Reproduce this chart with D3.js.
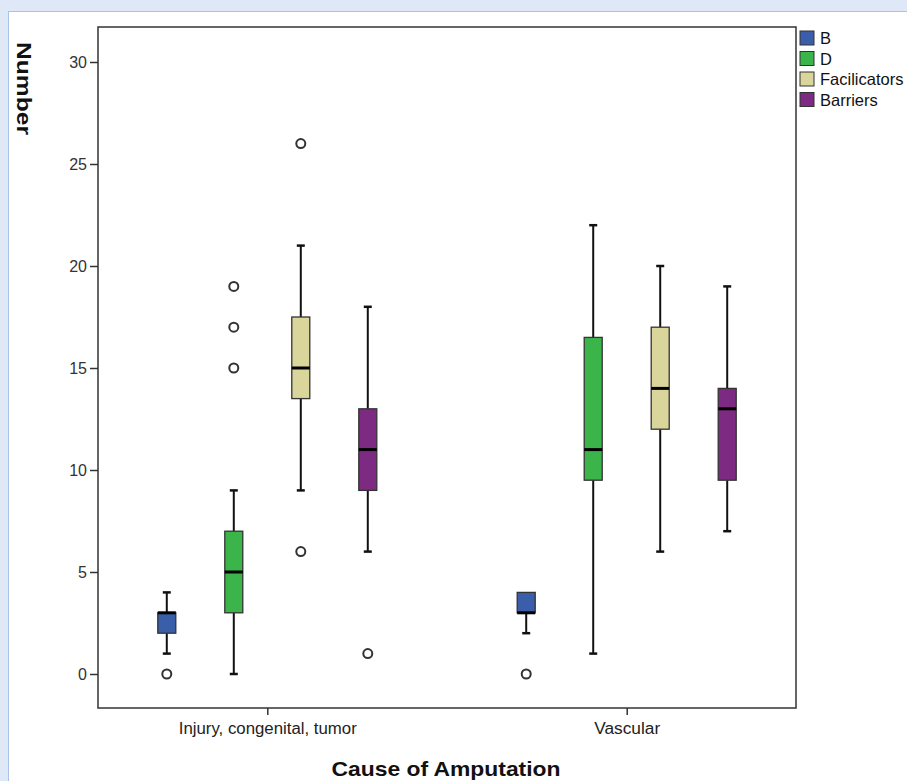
<!DOCTYPE html>
<html>
<head>
<meta charset="utf-8">
<script src="https://cdn.jsdelivr.net/npm/d3@7"></script>
<style>
  html, body { margin: 0; padding: 0; background: #dfe8f6; }
  svg { display: block; font-family: "Liberation Sans", Arial, sans-serif; }
</style>
</head>
<body>
<svg id="chart" width="907" height="781"></svg>
<script>
// categories and series
const causes = ['Injury, congenital, tumor', 'Vascular'];
const groups = ['B', 'D', 'Facilicators', 'Barriers'];
const colors = ['#3a5ea9', '#3bb54a', '#d9d59b', '#7d2a82'];
const yTicks = [0, 5, 10, 15, 20, 25, 30];

// box stats per cause, in group order: [min whisker, q1, median, q3, max whisker]
const injuryStats = [
  [1, 2, 3, 3, 4],
  [0, 3, 5, 7, 9],
  [9, 13.5, 15, 17.5, 21],
  [6, 9, 11, 13, 18]
];
const vascularStats = [
  [2, 3, 3, 4, 4],
  [1, 9.5, 11, 16.5, 22],
  [6, 12, 14, 17, 20],
  [7, 9.5, 13, 14, 19]
];
const injuryOutliers = [[0], [15, 17, 19], [26, 6], [1]];
const vascularOutliers = [[0], [], [], []];

const stats = [injuryStats, vascularStats];
const outliers = [injuryOutliers, vascularOutliers];

const svg = d3.select('#chart');

// white panel
svg.append('rect')
  .attr('x', 8.5).attr('y', 11.5)
  .attr('width', 910).attr('height', 780)
  .attr('fill', '#fff')
  .attr('stroke', '#a8c3e6');

const pLeft = 98, pRight = 796, pTop = 27, pBottom = 708;

const x = d3.scalePoint().domain(causes).range([pLeft, pRight]).padding(0.471);
const inner = d3.scaleBand().domain(groups).range([-134, 134]);
const y = d3.scaleLinear().domain([0, 30]).range([674, 62]);

// frame
svg.append('rect')
  .attr('x', pLeft).attr('y', pTop)
  .attr('width', pRight - pLeft).attr('height', pBottom - pTop)
  .attr('fill', 'none').attr('stroke', '#333').attr('stroke-width', 1.5);

// y axis
const yAxis = svg.append('g')
  .attr('transform', `translate(${pLeft},0)`)
  .call(d3.axisLeft(y).tickValues(yTicks).tickSize(8).tickPadding(3));
yAxis.select('.domain').remove();
yAxis.selectAll('line').attr('stroke', '#333').attr('stroke-width', 1.5);
yAxis.selectAll('text').attr('font-size', 16).attr('fill', '#333')
  .attr('font-family', '"Liberation Sans", Arial, sans-serif');

// x axis
const xAxis = svg.append('g')
  .attr('transform', `translate(0,${pBottom})`)
  .call(d3.axisBottom(x).tickSize(7).tickPadding(8));
xAxis.select('.domain').remove();
xAxis.selectAll('line').attr('stroke', '#333').attr('stroke-width', 1.5);
xAxis.selectAll('text').attr('font-size', 16).attr('fill', '#222')
  .attr('font-family', '"Liberation Sans", Arial, sans-serif')
  .attr('textLength', (d, i) => i === 0 ? 178 : 66)
  .attr('lengthAdjust', 'spacingAndGlyphs');

// axis titles
svg.append('text')
  .attr('x', (pLeft + pRight) / 2 - 1).attr('y', 776)
  .attr('text-anchor', 'middle')
  .attr('font-size', 21).attr('font-weight', 'bold').attr('fill', '#111')
  .attr('textLength', 229).attr('lengthAdjust', 'spacingAndGlyphs')
  .text('Cause of Amputation');

svg.append('text')
  .attr('transform', 'translate(17,42) rotate(90)')
  .attr('font-size', 21).attr('font-weight', 'bold').attr('fill', '#111')
  .attr('textLength', 93).attr('lengthAdjust', 'spacingAndGlyphs')
  .text('Number');

// boxes
const bw = 18, cap = 8;
causes.forEach((c, ci) => {
  groups.forEach((gname, gi) => {
    const s = stats[ci][gi];
    const cx = x(c) + inner(gname) + inner.bandwidth() / 2;
    const g = svg.append('g');
    // whiskers
    g.append('line')
      .attr('x1', cx).attr('x2', cx)
      .attr('y1', y(s[0])).attr('y2', y(s[1]))
      .attr('stroke', '#111').attr('stroke-width', 2);
    g.append('line')
      .attr('x1', cx).attr('x2', cx)
      .attr('y1', y(s[3])).attr('y2', y(s[4]))
      .attr('stroke', '#111').attr('stroke-width', 2);
    [s[0], s[4]].forEach(v => {
      if (v === s[1] || v === s[3]) return;
      g.append('line')
        .attr('x1', cx - cap / 2).attr('x2', cx + cap / 2)
        .attr('y1', y(v)).attr('y2', y(v))
        .attr('stroke', '#111').attr('stroke-width', 2.5);
    });
    // box
    g.append('rect')
      .attr('x', cx - bw / 2).attr('y', y(s[3]))
      .attr('width', bw).attr('height', y(s[1]) - y(s[3]))
      .attr('fill', colors[gi]).attr('stroke', '#333').attr('stroke-width', 1.3);
    // median
    g.append('line')
      .attr('x1', cx - bw / 2).attr('x2', cx + bw / 2)
      .attr('y1', y(s[2])).attr('y2', y(s[2]))
      .attr('stroke', '#000').attr('stroke-width', 3);
    // outliers
    g.selectAll('circle')
      .data(outliers[ci][gi])
      .enter().append('circle')
      .attr('cx', cx).attr('cy', d => y(d))
      .attr('r', 4.5)
      .attr('fill', '#fff').attr('stroke', '#333').attr('stroke-width', 2);
  });
});

// legend
const legend = svg.append('g').attr('transform', 'translate(800,31)');
groups.forEach((gname, i) => {
  legend.append('rect')
    .attr('x', 0).attr('y', i * 20.5)
    .attr('width', 14).attr('height', 14)
    .attr('fill', colors[i]).attr('stroke', '#333').attr('stroke-width', 1);
  legend.append('text')
    .attr('x', 20).attr('y', i * 20.5 + 13)
    .attr('font-size', 16.5).attr('fill', '#111')
    .text(gname);
});
</script>
</body>
</html>
